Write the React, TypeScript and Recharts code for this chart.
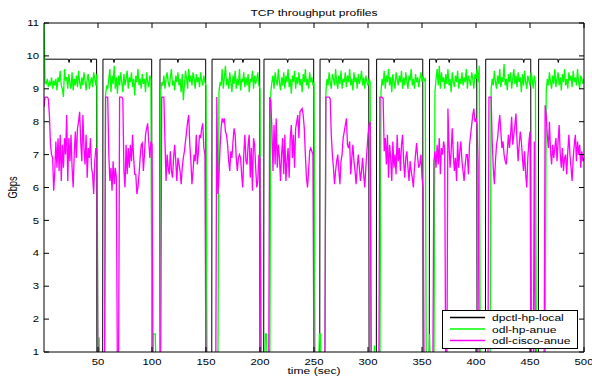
import { LineChart, Line, XAxis, YAxis, Legend, Label } from "recharts"

// axis ticks
const secTicks = [50, 100, 150, 200, 250, 300, 350, 400, 450, 500]
const gbpsTicks = [1, 2, 3, 4, 5, 6, 7, 8, 9, 10, 11]

// series names and colours, in legend order
const seriesNames = ["dpctl-hp-local", "odl-hp-anue", "odl-cisco-anue"]
const seriesColors = ["#000000", "#00ff00", "#ff00ff"]

// dpctl-hp-local: flat ~9.9 Gbps with outages, given as (second, Gbps) breakpoints
const localSec = [
  0, 22.6, 23.2, 23.8, 43, 43.6, 44.2, 48.7, 49, 54.3, 54.6,
  64.2, 64.8, 65.4, 99.7, 100, 107.1, 107.4,
  123.4, 124, 124.6, 149.7, 150, 155.3, 155.6,
  175, 175.6, 176.2, 183.6, 184.2, 184.8, 199.7, 200, 203.4, 203.7,
  225, 225.6, 226.2, 249.7, 250, 255.3, 255.6,
  263.6, 264.2, 264.8, 276, 276.6, 277.2, 300.7, 301, 307.7, 308,
  323.6, 324.2, 324.8, 350.7, 351, 356.7, 357,
  362.6, 363.2, 363.8, 374.6, 375.2, 375.8, 400.7, 401, 408.7, 409,
  443.6, 444.2, 444.8, 450.7, 451, 457.7, 458,
  475.6, 476.2, 476.8, 500,
]
const localGbps = [
  9.9, 9.9, 9.8, 9.9, 9.9, 9.8, 9.9, 9.9, 0, 0, 9.9,
  9.9, 9.8, 9.9, 9.9, 0, 0, 9.9,
  9.9, 9.8, 9.9, 9.9, 0, 0, 9.9,
  9.9, 9.8, 9.9, 9.9, 9.8, 9.9, 9.9, 0, 0, 9.9,
  9.9, 9.8, 9.9, 9.9, 0, 0, 9.9,
  9.9, 9.8, 9.9, 9.9, 9.8, 9.9, 9.9, 0, 0, 9.9,
  9.9, 9.8, 9.9, 9.9, 0, 0, 9.9,
  9.9, 9.8, 9.9, 9.9, 9.8, 9.9, 9.9, 0, 0, 9.9,
  9.9, 9.8, 9.9, 9.9, 0, 0, 9.9,
  9.9, 9.8, 9.9, 9.9,
]

// odl-hp-anue, one sample per second from t = 0
const hpAnueGbps = [
  11.0, 9.2, 9.15, 9.3, 9.05, 9.2, 9.1, 9.35, 9.0, 9.25,
  9.1, 9.3, 8.95, 9.35, 9.2, 9.55, 9.1, 9.0, 8.75, 9.6,
  9.25, 9.35, 9.0, 9.45, 9.15, 9.0, 9.5, 8.95, 9.3, 9.1,
  9.4, 9.05, 9.55, 9.2, 9.0, 9.35, 9.1, 9.5, 9.25, 8.95,
  9.3, 9.45, 9.0, 9.2, 9.35, 9.05, 9.5, 9.3, 9.1, 9.45,
  0, 1.45, 0, 0, 0, 0, 0, 8.8, 9.1, 9.0,
  9.3, 9.6, 8.9, 9.4, 9.15, 9.7, 9.0, 9.35, 8.85, 9.4,
  9.1, 9.5, 9.2, 8.9, 9.45, 9.1, 9.3, 9.55, 9.0, 9.35,
  9.2, 9.5, 9.05, 9.3, 8.8, 9.4, 9.2, 9.6, 9.1, 9.3,
  9.0, 9.45, 9.15, 9.3, 8.9, 9.5, 9.2, 9.05, 9.4, 9.3,
  0, 1.55, 1.55, 1.55, 0, 0, 0, 0, 8.9, 9.2,
  9.1, 9.4, 9.0, 9.3, 9.5, 9.2, 9.05, 9.35, 9.6, 9.1,
  9.25, 8.95, 9.4, 9.2, 9.5, 9.1, 9.3, 8.9, 9.45, 8.65,
  9.1, 9.55, 9.3, 9.0, 9.6, 9.2, 9.4, 9.1, 9.5, 9.3,
  9.0, 9.45, 9.2, 9.35, 9.05, 9.5, 9.25, 9.1, 9.4, 9.2,
  9.1, 0, 0, 0, 0, 0, 0, 0, 0, 0,
  0, 0, 8.9, 9.2, 9.1, 9.6, 9.0, 9.35, 9.7, 9.1,
  9.3, 9.0, 9.5, 9.2, 8.9, 9.4, 9.15, 9.55, 9.0, 9.3,
  9.1, 9.6, 8.95, 9.3, 9.2, 9.5, 9.05, 9.35, 9.1, 9.45,
  8.9, 9.3, 9.2, 9.55, 9.0, 9.4, 9.15, 9.3, 9.5, 9.1,
  9.0, 0, 0, 0, 0, 1.55, 1.55, 0, 0, 0,
  8.9, 9.2, 9.4, 9.0, 9.5, 9.25, 9.1, 9.6, 9.2, 8.95,
  9.35, 9.1, 9.5, 9.0, 9.4, 9.2, 9.6, 9.05, 9.3, 8.85,
  9.4, 9.2, 9.55, 9.0, 9.35, 9.15, 9.5, 9.1, 9.3, 8.9,
  9.45, 9.2, 9.6, 9.1, 9.3, 9.0, 9.5, 9.2, 9.35, 9.1,
  9.2, 0, 0, 0, 0, 1.55, 1.55, 0, 0, 0,
  0, 8.9, 9.3, 9.1, 9.5, 9.2, 9.0, 9.45, 9.3, 9.1,
  9.6, 9.2, 9.0, 9.4, 9.15, 9.55, 9.0, 9.3, 9.2, 9.5,
  9.05, 9.4, 9.2, 9.6, 9.1, 9.3, 8.95, 9.5, 9.2, 9.35,
  9.0, 9.45, 9.15, 9.3, 9.55, 9.1, 9.35, 9.0, 9.4, 9.2,
  9.1, 9.3, 9.2, 0, 0, 0, 1.2, 0, 0, 0,
  0, 0, 8.9, 9.3, 9.1, 9.55, 9.0, 9.4, 9.2, 9.6,
  9.1, 9.35, 8.9, 9.45, 9.2, 9.0, 9.5, 9.3, 9.1, 9.4,
  9.2, 9.55, 9.0, 9.35, 9.1, 9.5, 9.2, 9.0, 9.4, 9.25,
  9.6, 9.1, 9.3, 9.0, 9.45, 9.2, 9.35, 9.05, 9.3, 9.5,
  9.2, 9.4, 9.25, 9.3, 0, 0, 0, 1.55, 0, 0,
  0, 0, 8.9, 9.3, 9.6, 9.1, 9.7, 9.0, 9.5, 9.2,
  9.35, 9.0, 9.45, 9.15, 9.6, 9.1, 9.3, 8.9, 9.5, 9.2,
  9.05, 9.4, 9.2, 9.55, 9.0, 9.3, 9.15, 9.5, 9.1, 9.35,
  9.2, 9.6, 9.0, 9.4, 9.25, 9.1, 9.5, 9.3, 9.0, 9.45,
  9.3, 9.6, 9.2, 9.7, 0, 0, 0, 0, 0, 0,
  0, 0, 0, 0, 9.0, 9.3, 9.1, 9.55, 9.2, 9.0,
  9.4, 9.15, 9.6, 9.05, 9.35, 9.2, 9.75, 9.1, 9.3, 8.95,
  9.45, 9.2, 9.5, 9.0, 9.3, 9.6, 9.15, 9.4, 9.05, 9.5,
  9.2, 9.35, 8.9, 9.45, 9.1, 9.55, 9.2, 9.0, 9.4, 9.25,
  9.1, 9.5, 9.3, 9.0, 9.4, 9.2, 0, 0, 0, 0,
  0, 0, 0, 0, 0, 8.9, 9.3, 9.1, 9.5, 9.2,
  9.0, 9.4, 9.15, 9.6, 9.05, 9.3, 9.5, 9.1, 9.35, 8.95,
  9.45, 9.2, 9.6, 9.1, 9.3, 9.0, 9.5, 9.25, 9.4, 9.05,
  9.55, 9.2, 9.35, 9.1, 9.6, 9.2, 9.0, 9.4, 9.3, 9.15,
  9.3,
]

// odl-cisco-anue, one sample per second from t = 0
const ciscoAnueGbps = [
  8.45, 8.75, 8.75, 8.75, 8.7, 8.2, 7.3, 7.0, 6.9, 5.9,
  6.5, 7.4, 6.6, 7.5, 6.5, 7.6, 6.2, 7.3, 6.6, 7.5,
  7.0, 8.2, 6.2, 7.5, 6.8, 7.6, 6.6, 6.0, 7.0, 7.7,
  6.9, 7.8, 8.0, 8.3, 7.4, 6.8, 8.2, 7.2, 6.7, 7.6,
  6.3, 7.2, 6.9, 7.5, 6.6, 6.4, 5.8, 6.8, 7.2, 7.1,
  0, 0, 0, 0, 0, 0, 0, 8.75, 8.75, 8.75,
  7.0, 6.2, 6.6, 5.9, 6.8, 6.1, 6.6, 6.3, 0, 0,
  8.75, 8.75, 8.75, 8.7, 6.5, 6.0, 7.3, 6.4, 7.2, 6.6,
  7.3, 6.8, 7.6, 6.9, 6.4, 6.4, 5.8, 6.0, 6.4, 6.9,
  7.3, 7.35, 6.5, 7.0, 7.6, 7.8, 7.95, 7.4, 6.9, 7.4,
  7.3, 0, 0, 0, 0, 0, 0, 0, 0, 8.75,
  8.75, 8.75, 7.4, 6.2, 7.0, 6.6, 6.4, 7.1, 6.5, 6.3,
  6.9, 7.3, 6.8, 6.2, 6.9, 6.7, 6.5, 6.1, 6.6, 6.9,
  7.1, 7.4, 7.7, 8.0, 8.2, 7.3, 6.8, 6.1, 6.5, 7.0,
  6.8, 7.6, 6.7, 7.1, 7.6, 7.5, 7.8, 7.95, 7.2, 7.0,
  0, 0, 0, 0, 0, 0, 0, 0, 0, 0,
  8.75, 5.8, 6.4, 7.2, 7.8, 8.1, 8.0, 8.1, 7.7, 7.6,
  7.3, 6.8, 6.5, 7.1, 6.9, 7.4, 7.8, 7.6, 6.9, 6.5,
  6.9, 7.0, 6.9, 6.4, 6.0, 7.0, 7.6, 6.8, 6.7, 7.3,
  7.6, 6.3, 7.2, 5.9, 7.5, 7.3, 6.6, 6.0, 6.2, 7.0,
  6.9, 0, 0, 0, 0, 0, 0, 0, 0, 8.75,
  8.6, 7.8, 6.5, 7.9, 6.7, 8.1, 6.6, 7.3, 6.9, 6.2,
  7.0, 7.5, 6.4, 7.6, 6.2, 6.8, 7.2, 6.3, 7.5, 7.9,
  6.9, 7.6, 6.6, 7.8, 8.0, 8.2, 7.5, 8.3, 8.35, 8.4,
  8.2, 7.8, 7.0, 6.3, 6.0, 6.5, 7.1, 7.2, 7.1, 7.0,
  0, 0, 0, 0, 0, 0, 0, 0, 0, 0,
  0, 8.75, 8.75, 8.75, 8.75, 8.7, 7.6, 7.0, 6.6, 6.1,
  6.5, 6.8, 7.0, 6.5, 6.1, 6.8, 7.0, 7.5, 7.7, 7.9,
  8.1, 7.3, 7.2, 7.4, 6.4, 6.9, 7.3, 6.8, 6.5, 6.1,
  6.6, 7.0, 6.6, 6.2, 6.5, 6.9, 6.4, 6.0, 6.6, 7.1,
  7.6, 7.9, 8.0, 0, 0, 0, 0, 0, 0, 0,
  0, 8.75, 8.75, 8.75, 8.7, 7.1, 7.5, 6.7, 7.6, 6.3,
  7.3, 6.9, 6.2, 7.4, 6.6, 7.0, 6.4, 7.6, 6.8, 7.2,
  6.5, 7.3, 7.6, 6.8, 6.3, 6.9, 7.1, 6.6, 6.2, 6.8,
  6.5, 6.3, 6.0, 6.6, 7.0, 7.35, 6.9, 6.6, 6.7, 7.0,
  6.3, 6.0, 0, 0, 0, 0, 0, 0, 0, 0,
  0, 6.8, 7.1, 6.6, 7.3, 6.7, 7.5, 6.4, 7.2, 7.0,
  7.4, 7.2, 0, 0, 8.4, 7.3, 6.6, 7.1, 7.8, 7.0,
  6.5, 6.9, 6.2, 7.4, 6.6, 7.1, 7.4, 6.8, 6.5, 6.2,
  6.7, 7.0, 7.0, 6.4, 7.3, 7.6, 7.9, 8.2, 8.4, 8.0,
  8.1, 7.9, 6.7, 0, 0, 0, 0, 0, 0, 0,
  0, 0, 8.75, 8.75, 8.75, 7.4, 6.6, 6.1, 6.8, 7.3,
  7.5, 7.9, 8.2, 7.7, 7.2, 7.4, 7.0, 6.8, 6.7, 7.1,
  7.6, 7.2, 7.6, 8.15, 7.3, 7.6, 7.9, 8.25, 7.4, 6.8,
  7.3, 7.7, 7.4, 6.9, 6.5, 7.1, 6.4, 6.0, 6.9, 7.4,
  7.7, 0, 0, 0, 7.4, 0, 0, 0, 0, 0,
  0, 0, 0, 0, 8.5, 8.2, 7.6, 7.2, 8.0, 7.1,
  6.7, 7.3, 6.9, 7.2, 7.5, 6.8, 7.4, 7.9, 7.0, 6.6,
  7.2, 6.5, 6.9, 7.0, 6.4, 7.1, 7.6, 7.0, 6.6, 6.2,
  6.9, 7.3, 7.6, 6.8, 7.4, 7.0, 7.3, 6.6, 7.1, 6.8,
  6.9,
]

const localData = localSec.map((t, i) => ({ t, gbps: localGbps[i] }))
const anueData = hpAnueGbps.map((hp, i) => ({ t: i, hp, cisco: ciscoAnueGbps[i] }))

const FONT = "'Liberation Sans', Arial, Helvetica, sans-serif"
// the figure text is drawn a little wider than normal Helvetica
const SX = 1.3

function Txt({ x, y, anchor = "start", size = 9.3, vertical = false, children }: any) {
  const transform = vertical
    ? `translate(${x},${y}) rotate(-90) scale(1,${SX})`
    : `translate(${x},${y}) scale(${SX},1)`
  return (
    <text transform={transform} textAnchor={anchor} fontSize={size} fontFamily={FONT} fill="#000">
      {children}
    </text>
  )
}

const noTick = () => <g />

const bottomTick = (p: any) => (
  <Txt x={p.x} y={p.y} anchor="middle" size={8.7}>
    {p.payload.value}
  </Txt>
)

const leftTick = (p: any) => (
  <Txt x={p.x} y={p.y + 3.1} anchor="end" size={8.7}>
    {p.payload.value}
  </Txt>
)

const titleLabel = (p: any) => {
  const vb = p.viewBox
  return (
    <Txt x={vb.x + vb.width / 2} y={vb.y + vb.height - 7} anchor="middle">
      TCP throughput profiles
    </Txt>
  )
}

const timeLabel = (p: any) => {
  const vb = p.viewBox
  return (
    <Txt x={vb.x + vb.width / 2} y={vb.y + 22} anchor="middle">
      time (sec)
    </Txt>
  )
}

const gbpsLabel = (p: any) => {
  const vb = p.viewBox
  return (
    <Txt x={vb.x + 16.5} y={vb.y + vb.height / 2} anchor="middle" vertical>
      Gbps
    </Txt>
  )
}

// boxed legend in the lower right corner of the axes
const legendBox = () => (
  <svg width={136} height={39} style={{ display: "block" }}>
    <rect x={0.5} y={0.5} width={135} height={38} fill="#fff" stroke="#000" />
    {seriesNames.map((name, i) => (
      <g key={name}>
        <line x1={8} x2={43} y1={7.5 + 11.5 * i} y2={7.5 + 11.5 * i} stroke={seriesColors[i]} strokeWidth={1.5} />
        <Txt x={50} y={11 + 11.5 * i}>{name}</Txt>
      </g>
    ))}
  </svg>
)

export default function App() {
  return (
    <div style={{ width: 592, height: 377, background: "#fff" }}>
      <style>{"body{margin:0}"}</style>
      <LineChart width={592} height={377} margin={{ top: 22, right: 7, bottom: 0, left: 0 }}>
        <XAxis
          xAxisId="b"
          type="number"
          dataKey="t"
          domain={[0, 500]}
          ticks={secTicks}
          interval={0}
          allowDataOverflow
          height={25}
          tickSize={-5}
          tickMargin={17.5}
          tick={bottomTick}
          axisLine={{ stroke: "#000" }}
          tickLine={{ stroke: "#000" }}
        >
          <Label content={timeLabel} />
        </XAxis>
        <XAxis
          xAxisId="top"
          orientation="top"
          type="number"
          dataKey="t"
          domain={[0, 500]}
          ticks={secTicks}
          interval={0}
          allowDataOverflow
          height={1}
          tickSize={-5}
          tick={noTick}
          axisLine={{ stroke: "#000" }}
          tickLine={{ stroke: "#000" }}
        >
          <Label content={titleLabel} />
        </XAxis>
        <YAxis
          yAxisId="l"
          type="number"
          domain={[1, 11]}
          ticks={gbpsTicks}
          interval={0}
          allowDataOverflow
          width={44}
          tickSize={-5}
          tickMargin={10}
          tick={leftTick}
          axisLine={{ stroke: "#000" }}
          tickLine={{ stroke: "#000" }}
        >
          <Label content={gbpsLabel} />
        </YAxis>
        <YAxis
          yAxisId="r"
          orientation="right"
          type="number"
          domain={[1, 11]}
          ticks={gbpsTicks}
          interval={0}
          allowDataOverflow
          width={1}
          tickSize={-5}
          tick={noTick}
          axisLine={{ stroke: "#000" }}
          tickLine={{ stroke: "#000" }}
        />
        {/* unstroked copy of the first series so the top and right axes get a domain */}
        <Line
          xAxisId="top"
          yAxisId="r"
          data={localData}
          dataKey="gbps"
          stroke="none"
          legendType="none"
          dot={false}
          activeDot={false}
          isAnimationActive={false}
        />
        <Line
          xAxisId="b"
          yAxisId="l"
          data={localData}
          dataKey="gbps"
          name={seriesNames[0]}
          type="linear"
          stroke={seriesColors[0]}
          strokeWidth={1}
          dot={false}
          isAnimationActive={false}
        />
        <Line
          xAxisId="b"
          yAxisId="l"
          data={anueData}
          dataKey="hp"
          name={seriesNames[1]}
          type="linear"
          stroke={seriesColors[1]}
          strokeWidth={1.3}
          dot={false}
          isAnimationActive={false}
        />
        <Line
          xAxisId="b"
          yAxisId="l"
          data={anueData}
          dataKey="cisco"
          name={seriesNames[2]}
          type="linear"
          stroke={seriesColors[2]}
          strokeWidth={1.3}
          dot={false}
          isAnimationActive={false}
        />
        <Legend
          layout="vertical"
          align="center"
          verticalAlign="middle"
          wrapperStyle={{ left: 442, top: 310, width: 136, height: 39 }}
          content={legendBox}
        />
      </LineChart>
    </div>
  )
}
